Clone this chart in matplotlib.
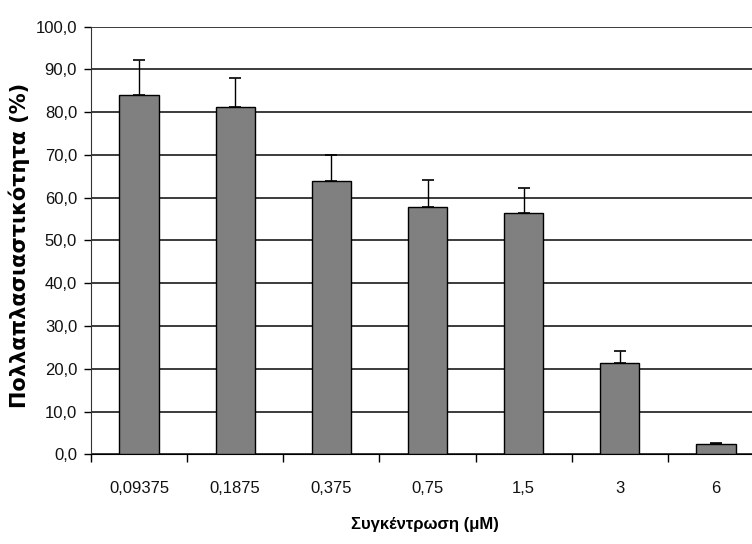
import numpy as np
import matplotlib.pyplot as plt
from matplotlib.ticker import MultipleLocator, FuncFormatter

# concentrations (uM) and proliferation (%) with upper error
concentrations = ["0,09375", "0,1875", "0,375", "0,75", "1,5", "3", "6"]
proliferation = [84.0, 81.3, 63.9, 57.8, 56.5, 21.3, 2.3]
errors = [8.2, 6.8, 6.1, 6.4, 5.7, 2.9, 0.3]

fig = plt.figure(figsize=(7.52, 5.44), dpi=100)
# plot area runs past the right edge of the figure
ax = fig.add_axes([91/752, 89.7/544, 673/752, 427.6/544])

x = np.arange(len(concentrations))
ax.bar(x, proliferation, width=0.41, color="#808080", edgecolor="black",
       linewidth=1.0, zorder=3)
ax.errorbar(x, proliferation, yerr=[np.zeros(len(errors)), errors], fmt="none",
            ecolor="black", elinewidth=1.0, capsize=4.5, capthick=1.2, zorder=4)

ax.set_xlim(-0.5, len(concentrations) - 0.5)
ax.set_ylim(0, 100)
ax.yaxis.set_major_locator(MultipleLocator(10))
ax.yaxis.set_major_formatter(FuncFormatter(lambda v, p: f"{v:.1f}".replace(".", ",")))

ax.set_xticks(x)
ax.set_xticklabels(concentrations)
ax.set_xticks(np.arange(len(concentrations) + 1) - 0.5, minor=True)
ax.tick_params(axis="x", which="major", length=0, pad=19)
ax.tick_params(axis="x", which="minor", length=6, width=1, direction="out")
ax.tick_params(axis="y", length=5, width=1, pad=5)
for lab in ax.get_xticklabels() + ax.get_yticklabels():
    lab.set_fontfamily("Liberation Sans")
    lab.set_fontsize(12)
    lab.set_color("#111111")

ax.grid(axis="y", color="#1a1a1a", linewidth=1.2, zorder=0)
ax.get_ygridlines()[-1].set_color("#999999")
ax.set_axisbelow(True)

ax.spines["top"].set_visible(False)
ax.spines["right"].set_visible(False)
ax.spines["left"].set_color("#333333")
ax.spines["bottom"].set_color("black")

fig.text(19/752, 1 - 245/544, "Πολλαπλασιαστικότητα (%)", rotation=90,
         ha="center", va="center", fontfamily="DejaVu Sans",
         fontweight="bold", fontsize=15)
fig.text(425/752, 1 - 525/544, "Συγκέντρωση (μΜ)", ha="center", va="center",
         fontfamily="Liberation Sans", fontweight="bold", fontsize=12)

fig.savefig("out.png", dpi=100)
